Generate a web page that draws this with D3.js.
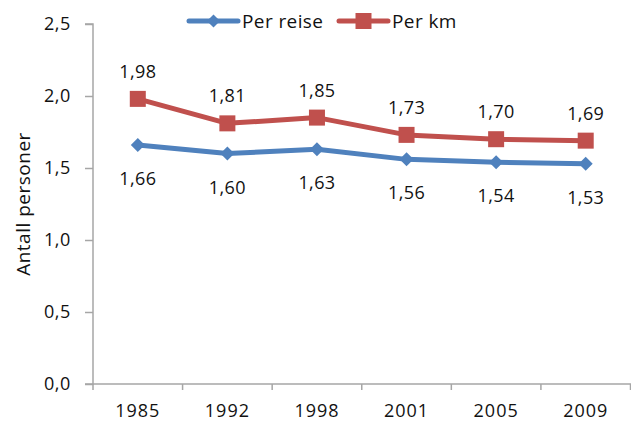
<!DOCTYPE html>
<html>
<head>
<meta charset="utf-8">
<script src="https://cdn.jsdelivr.net/npm/d3@7"></script>
<style>
  body { margin: 0; background: #fff; }
  text { font-family: "Open Sans", "Liberation Sans", sans-serif; fill: #111; }
</style>
</head>
<body>
<div id="chart"></div>
<script>
const years = ["1985", "1992", "1998", "2001", "2005", "2009"]
const perReise = [1.66, 1.60, 1.63, 1.56, 1.54, 1.53]
const perKm = [1.98, 1.81, 1.85, 1.73, 1.70, 1.69]
const yTicks = [0, 0.5, 1.0, 1.5, 2.0, 2.5]

const width = 631, height = 423
const margin = {top: 24, right: 0, bottom: 39, left: 93}

const svg = d3.select("#chart").append("svg")
  .attr("width", width)
  .attr("height", height)

const x = d3.scaleBand()
  .domain(years)
  .range([margin.left, width - 0.5])

const y = d3.scaleLinear()
  .domain([0, 2.5])
  .range([height - margin.bottom, margin.top])

const fmt = v => d3.format(".1f")(v).replace(".", ",")
const fmt2 = v => d3.format(".2f")(v).replace(".", ",")

// y axis
const yAxis = svg.append("g")
  .attr("transform", `translate(${margin.left},0)`)
  .call(d3.axisLeft(y).tickValues(yTicks).tickFormat(fmt).tickSize(8).tickPadding(14))
yAxis.selectAll("text").style("font-size", "18px").style("letter-spacing", "0.6px")

// x axis
const xAxis = svg.append("g")
  .attr("transform", `translate(0,${y(0)})`)
  .call(d3.axisBottom(x).tickSize(0).tickPadding(20))
xAxis.selectAll("text").style("font-size", "18px").style("letter-spacing", "1px")
// ticks between categories
xAxis.selectAll(".sep")
  .data(years.concat(["end"]))
  .join("line")
  .attr("x1", (d, i) => margin.left + i * x.step())
  .attr("x2", (d, i) => margin.left + i * x.step())
  .attr("y1", 0).attr("y2", 6)
  .attr("stroke", "#a6a6a6").attr("stroke-width", 1.5)

svg.selectAll(".domain, .tick line")
  .attr("stroke", "#a6a6a6").attr("stroke-width", 1.5)
yAxis.select(".domain").attr("d", `M-8,${y(2.5)}H0V${y(0)}H-8`)
xAxis.select(".domain").attr("d", `M${margin.left},0H${width}`)

// y title
svg.append("text")
  .attr("transform", `translate(23,${(y(0) + y(2.5)) / 2}) rotate(-90)`)
  .attr("text-anchor", "middle")
  .attr("dominant-baseline", "central")
  .style("font-size", "19px")
  .style("letter-spacing", "0.5px")
  .text("Antall personer")

const cx = d => x(d) + x.bandwidth() / 2

const line = d3.line()
  .x((d, i) => cx(years[i]))
  .y(d => y(d))

// Per km (red)
svg.append("path")
  .datum(perKm)
  .attr("fill", "none")
  .attr("stroke", "#c0504d")
  .attr("stroke-width", 5)
  .attr("stroke-linejoin", "round")
  .attr("d", line)

svg.selectAll(".sq")
  .data(perKm)
  .join("rect")
  .attr("x", (d, i) => cx(years[i]) - 8)
  .attr("y", d => y(d) - 8)
  .attr("width", 16).attr("height", 16)
  .attr("fill", "#c0504d")

svg.selectAll(".lblKm")
  .data(perKm)
  .join("text")
  .attr("x", (d, i) => cx(years[i]))
  .attr("y", d => y(d) - 28)
  .attr("text-anchor", "middle")
  .attr("dominant-baseline", "central")
  .style("font-size", "18px")
  .style("letter-spacing", "0.4px")
  .text(fmt2)

// Per reise (blue)
svg.append("path")
  .datum(perReise)
  .attr("fill", "none")
  .attr("stroke", "#4f81bd")
  .attr("stroke-width", 5)
  .attr("stroke-linejoin", "round")
  .attr("d", line)

const diamond = d3.symbol().type(d3.symbolDiamond2).size(125)
svg.selectAll(".dia")
  .data(perReise)
  .join("path")
  .attr("transform", (d, i) => `translate(${cx(years[i])},${y(d)})`)
  .attr("d", diamond)
  .attr("fill", "#4f81bd")

svg.selectAll(".lblReise")
  .data(perReise)
  .join("text")
  .attr("x", (d, i) => cx(years[i]))
  .attr("y", d => y(d) + 33)
  .attr("text-anchor", "middle")
  .attr("dominant-baseline", "central")
  .style("font-size", "18px")
  .style("letter-spacing", "0.4px")
  .text(fmt2)

// legend
const legend = [
  {name: "Per reise", color: "#4f81bd", x: 189, shape: "diamond"},
  {name: "Per km", color: "#c0504d", x: 339, shape: "square"}
]
const lg = svg.append("g").selectAll("g")
  .data(legend)
  .join("g")
  .attr("transform", d => `translate(${d.x},21)`)
lg.append("line")
  .attr("x1", 0).attr("x2", 49)
  .attr("stroke", d => d.color)
  .attr("stroke-width", 5)
  .attr("stroke-linecap", "round")
lg.append("path")
  .attr("transform", "translate(24.5,0)")
  .attr("d", d => d.shape === "diamond"
    ? d3.symbol().type(d3.symbolDiamond2).size(110)()
    : "M-8,-8H8V8H-8Z")
  .attr("fill", d => d.color)
lg.append("text")
  .attr("x", 53)
  .attr("dominant-baseline", "central")
  .style("font-size", "19px")
  .style("letter-spacing", "0.4px")
  .text(d => d.name)
</script>
</body>
</html>
